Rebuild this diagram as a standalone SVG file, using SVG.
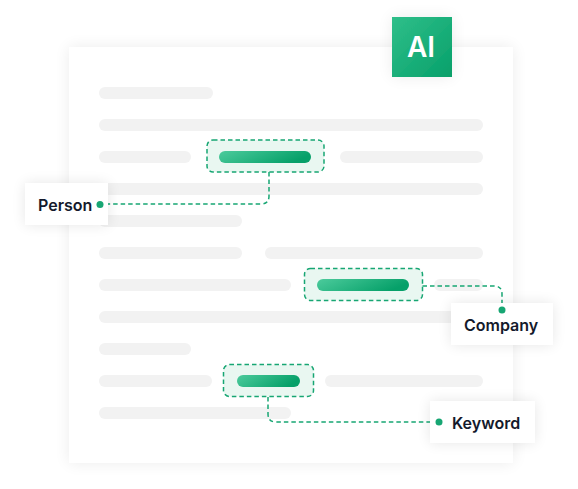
<svg xmlns="http://www.w3.org/2000/svg" width="578" height="489" viewBox="0 0 578 489">
<defs>
<linearGradient id="bar" x1="0" y1="0" x2="1" y2="0.3">
<stop offset="0" stop-color="#4ccb9c"/>
<stop offset="1" stop-color="#06a069"/>
</linearGradient>
<linearGradient id="ai" x1="0" y1="0" x2="1" y2="1">
<stop offset="0" stop-color="#2fbf8a"/>
<stop offset="1" stop-color="#07a06a"/>
</linearGradient>
<filter id="sh" x="-20%" y="-20%" width="140%" height="140%">
<feGaussianBlur in="SourceAlpha" stdDeviation="8"/>
<feComponentTransfer><feFuncA type="linear" slope="0.08"/></feComponentTransfer>
<feMerge><feMergeNode/><feMergeNode in="SourceGraphic"/></feMerge>
</filter>
<filter id="shl" x="-40%" y="-60%" width="180%" height="220%">
<feGaussianBlur in="SourceAlpha" stdDeviation="7"/>
<feComponentTransfer><feFuncA type="linear" slope="0.1"/></feComponentTransfer>
<feMerge><feMergeNode/><feMergeNode in="SourceGraphic"/></feMerge>
</filter>
<style>
.ln{fill:#f2f2f2}
.hl{fill:#e9f7f1;stroke:#17a673;stroke-width:1.5;stroke-dasharray:4.5 3}
.bar{fill:url(#bar)}
.con{fill:none;stroke:#17a673;stroke-width:1.5;stroke-dasharray:4.5 3}
.dot{fill:#17a673}
.lbl{fill:#ffffff}
.txt{font-family:Inter,"Noto Sans",sans-serif;font-weight:600;font-size:16px;fill:#141a2c}
</style>
</defs>
<rect width="578" height="489" fill="#ffffff"/>
<g id="page">
<rect x="69" y="47" width="444" height="416" fill="#ffffff" filter="url(#sh)"/>
<rect class="ln" x="99" y="87" width="114" height="12" rx="6"/>
<rect class="ln" x="99" y="119" width="384" height="12" rx="6"/>
<rect class="ln" x="99" y="151" width="92" height="12" rx="6"/>
<rect class="ln" x="340" y="151" width="143" height="12" rx="6"/>
<rect class="ln" x="99" y="183" width="384" height="12" rx="6"/>
<rect class="ln" x="99" y="215" width="143" height="12" rx="6"/>
<rect class="ln" x="99" y="247" width="143" height="12" rx="6"/>
<rect class="ln" x="265" y="247" width="218" height="12" rx="6"/>
<rect class="ln" x="99" y="279" width="192" height="12" rx="6"/>
<rect class="ln" x="434" y="279" width="49" height="12" rx="6"/>
<rect class="ln" x="99" y="311" width="384" height="12" rx="6"/>
<rect class="ln" x="99" y="343" width="92" height="12" rx="6"/>
<rect class="ln" x="99" y="375" width="113" height="12" rx="6"/>
<rect class="ln" x="325" y="375" width="158" height="12" rx="6"/>
<rect class="ln" x="99" y="407" width="192" height="12" rx="6"/>
</g>
<g id="ai-badge">
<rect x="392" y="17" width="60" height="60" fill="url(#ai)" filter="url(#sh)"/>
<text x="421" y="57" text-anchor="middle" font-family="Inter,'Noto Sans',sans-serif" font-weight="600" font-size="28" fill="#ffffff">AI</text>
</g>
<g id="highlight-person">
<rect class="hl" x="207" y="140" width="117" height="32" rx="6"/>
<rect class="bar" x="219" y="151" width="92" height="12" rx="6"/>
</g>
<g id="highlight-company">
<rect class="hl" x="304.5" y="268.5" width="118" height="32" rx="6"/>
<rect class="bar" x="317" y="279" width="92" height="12" rx="6"/>
</g>
<g id="highlight-keyword">
<rect class="hl" x="223.5" y="364.5" width="90" height="32" rx="6"/>
<rect class="bar" x="237" y="375" width="63" height="12" rx="6"/>
</g>
<g id="connectors">
<path class="con" d="M269 172 V196 Q269 204 261 204 H102"/>
<path class="con" d="M422.5 286 H494 Q502 286 502 294 V308"/>
<path class="con" d="M268 397 V414 Q268 422 276 422 H437"/>
</g>
<g id="label-person">
<rect class="lbl" x="25" y="183" width="83" height="42" filter="url(#shl)"/>
<text class="txt" x="38" y="211">Person</text>
<circle class="dot" cx="100" cy="204.5" r="3.5"/>
</g>
<g id="label-company">
<rect class="lbl" x="451" y="303" width="102" height="42" filter="url(#shl)"/>
<text class="txt" x="464" y="331">Company</text>
<circle class="dot" cx="502" cy="310" r="3.5"/>
</g>
<g id="label-keyword">
<rect class="lbl" x="430" y="401" width="105" height="42" filter="url(#shl)"/>
<text class="txt" x="452" y="429">Keyword</text>
<circle class="dot" cx="439" cy="422" r="3.5"/>
</g>
</svg>
